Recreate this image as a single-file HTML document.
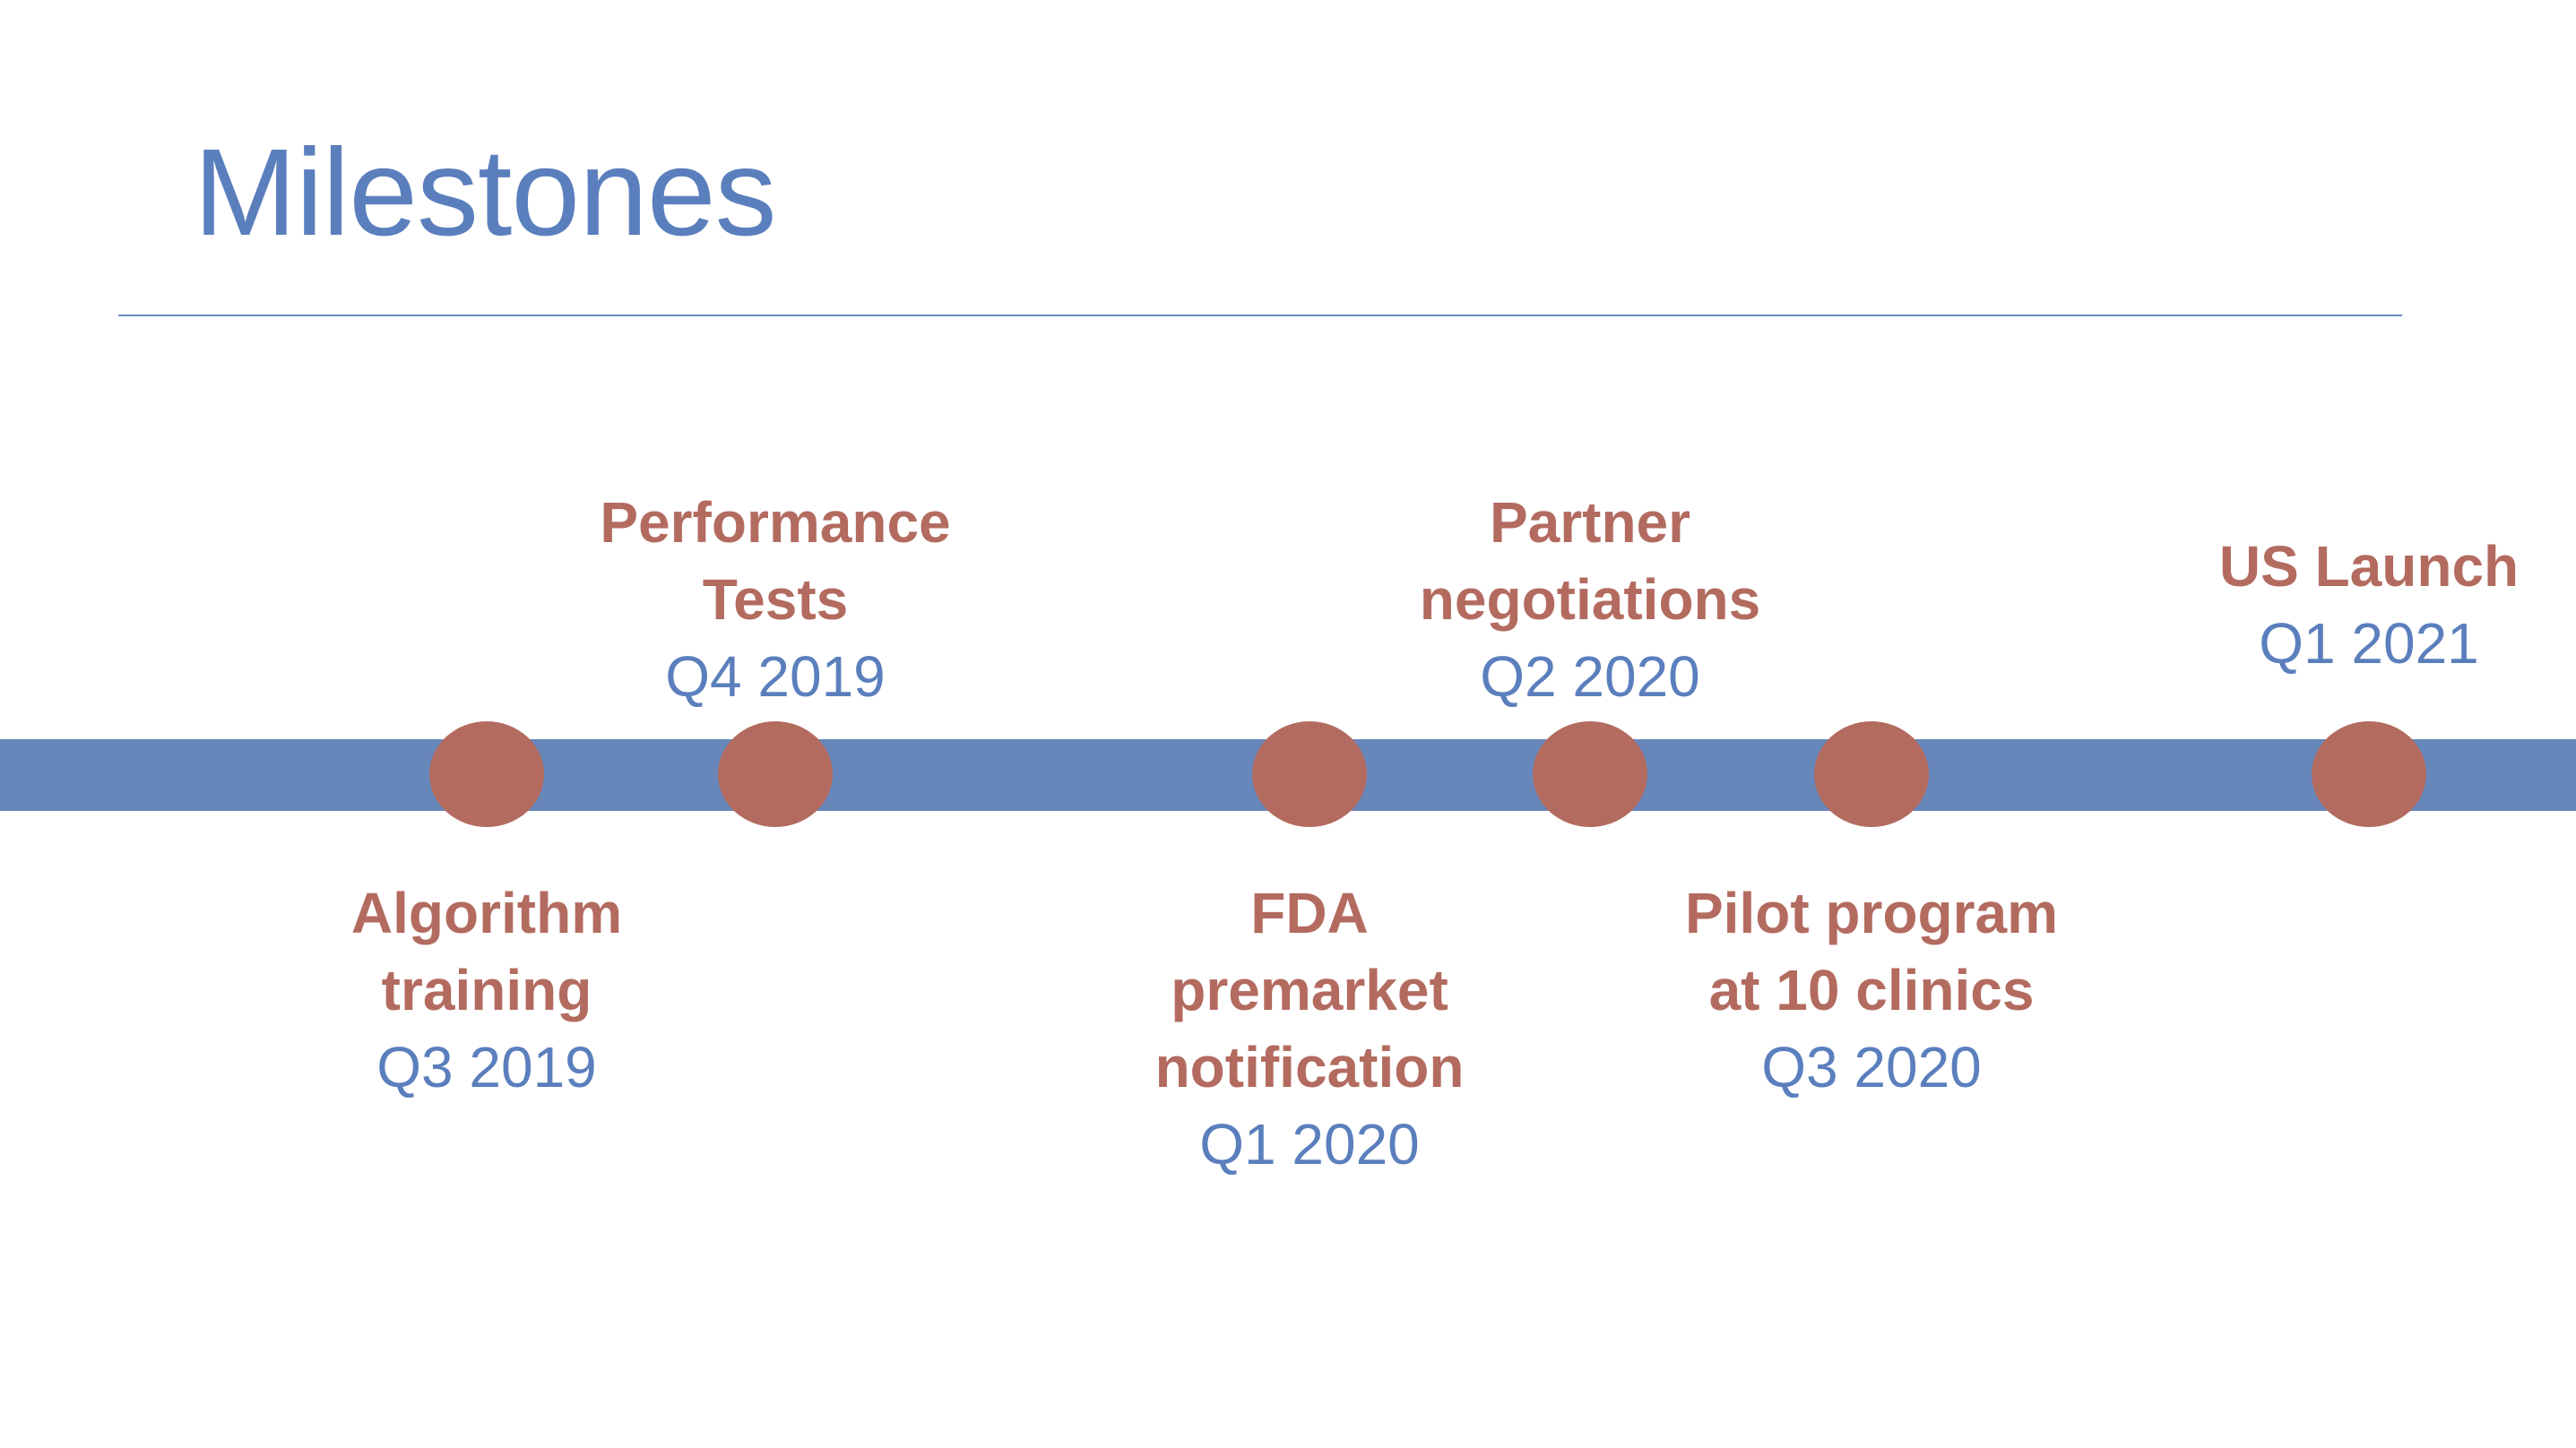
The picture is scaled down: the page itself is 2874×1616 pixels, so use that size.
<!DOCTYPE html>
<html><head><meta charset="utf-8"><style>
html,body{margin:0;padding:0;}
body{width:2874px;height:1616px;background:#fff;position:relative;overflow:hidden;font-family:"Liberation Sans",sans-serif;}
.title{position:absolute;left:216px;top:146px;font-size:138px;color:#5b7fbd;line-height:1;letter-spacing:-1px;}
.rule{position:absolute;left:132px;top:351px;width:2548px;height:2px;background:#6a8bc4;}
.bar{position:absolute;left:0;top:825px;width:2874px;height:80px;background:#6787bb;}
.dot{position:absolute;width:128px;height:118px;border-radius:50%;background:#b36b60;top:805px;}
.lbl{position:absolute;width:600px;text-align:center;font-size:64px;line-height:86px;}
.lbl b{color:#b36b60;display:block;}
.lbl span{color:#5b7fbd;display:block;}
</style></head><body>
<div class="title">Milestones</div>
<div class="rule"></div>
<div class="bar"></div>
<div class="dot" style="left:479px"></div>
<div class="dot" style="left:801px"></div>
<div class="dot" style="left:1397px"></div>
<div class="dot" style="left:1710px"></div>
<div class="dot" style="left:2024px"></div>
<div class="dot" style="left:2579px"></div>

<div class="lbl" style="left:565px;top:540px"><b>Performance</b><b>Tests</b><span>Q4 2019</span></div>
<div class="lbl" style="left:1474px;top:540px"><b>Partner</b><b>negotiations</b><span>Q2 2020</span></div>
<div class="lbl" style="left:2343px;top:589px"><b>US Launch</b><span>Q1 2021</span></div>

<div class="lbl" style="left:243px;top:976px"><b>Algorithm</b><b>training</b><span>Q3 2019</span></div>
<div class="lbl" style="left:1161px;top:976px"><b>FDA</b><b>premarket</b><b>notification</b><span>Q1 2020</span></div>
<div class="lbl" style="left:1788px;top:976px"><b>Pilot program</b><b>at 10 clinics</b><span>Q3 2020</span></div>
</body></html>
